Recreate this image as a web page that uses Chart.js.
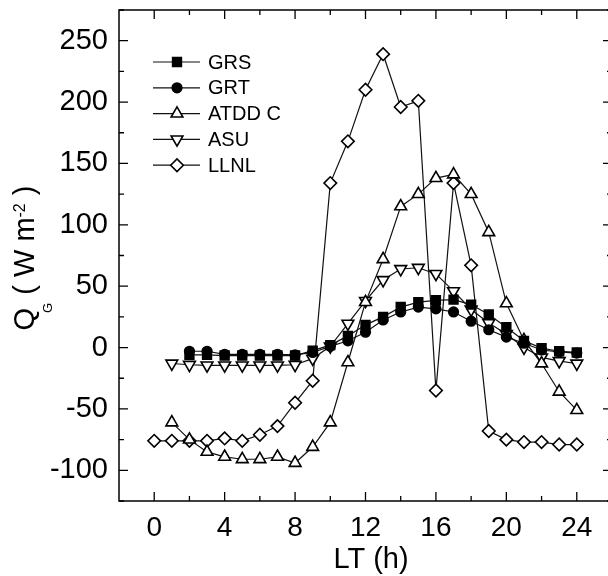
<!DOCTYPE html>
<html>
<head>
<meta charset="utf-8">
<style>
  html, body { margin: 0; padding: 0; background: #fff; overflow: hidden; width: 608px; height: 576px; }
  canvas { display: block; }
</style>
<script src="https://cdn.jsdelivr.net/npm/chart.js@4/dist/chart.umd.min.js"></script>
</head>
<body>
<canvas id="c" width="608" height="576"></canvas>
<script>
// ---- data ----
const hours = [0,1,2,3,4,5,6,7,8,9,10,11,12,13,14,15,16,17,18,19,20,21,22,23,24];
const GRS  = [null,null,-6,-6,-6.5,-6.5,-6.5,-6.5,-6.5,-2.5,2,9.5,18.5,25,33,37,38.5,39,35,27,16.5,5.5,-0.5,-3,-4];
const GRT  = [null,null,-3,-3,-5.5,-5.5,-5.5,-5.5,-6,-4,1,5.5,12.5,22.5,29,33,31.5,29,21.5,14.5,8.5,3.5,-2,-3.5,-4.5];
const ATDD = [null,-61,-75,-85,-89,-91,-91,-89,-94,-81,-61,-12,37,72,115,125,138,141,125,94,36,6,-13,-36,-51];
const ASU  = [null,-13,-14,-14.5,-14.5,-14.5,-14.5,-14.5,-14,-9,1,19.5,38,55,64,65,60,46,31,20,11,0,-8,-11,-13];
const LLNL = [-76,-76,-76,-76,-74,-76,-71,-64,-45,-27,134,168,210,239,196,201,-35,134,67,-68,-75,-77,-77,-79,-79];
const seriesNames = ['GRS','GRT','ATDD C','ASU','LLNL'];
const xTickVals = [0,4,8,12,16,20,24];
const xMinorVals = [2,6,10,14,18,22];
const yTickVals = [-100,-50,0,50,100,150,200,250];
const yMinorVals = [-125,-75,-25,25,75,125,175,225,275];
const xTitle = 'LT (h)';

function pts(arr){ const o=[]; arr.forEach((v,i)=>{ if(v!==null) o.push({x:hours[i], y:v}); }); return o; }

const FONT = '"Liberation Sans", Arial, sans-serif';
const styles = [
  {pointStyle:'rect', radius:6.2, rotation:0, fill:'#000'},
  {pointStyle:'circle', radius:4.8, rotation:0, fill:'#000'},
  {pointStyle:'triangle', radius:6.8, rotation:0, fill:'#fff'},
  {pointStyle:'triangle', radius:6.8, rotation:180, fill:'#fff'},
  {pointStyle:'rectRot', radius:6.3, rotation:0, fill:'#fff'}
];
const allSeries = [GRS, GRT, ATDD, ASU, LLNL];

const datasets = allSeries.map((s,i)=>({
  label: seriesNames[i],
  data: pts(s),
  borderColor:'#111',
  borderWidth:1.2,
  pointStyle: styles[i].pointStyle,
  pointRadius: styles[i].radius,
  pointRotation: styles[i].rotation,
  pointBackgroundColor: styles[i].fill,
  pointBorderColor:'#000',
  pointBorderWidth:1.6,
  tension:0,
  fill:false,
  clip:false
}));

function zeroPad(s){ s.paddingTop = 0; s.paddingBottom = 0; s.paddingLeft = 0; s.paddingRight = 0; }

// the plot frame continues a few pixels past the right edge of the picture
const extendPlugin = {
  id:'extend',
  afterLayout(chart){
    const xs = chart.scales.x;
    const R = chart.width + 4;
    chart.chartArea.right = R;
    chart.chartArea.width = R - chart.chartArea.left;
    xs.right = R;
    xs.width = R - xs.left;
    xs.configure();
  }
};

const framePlugin = {
  id:'frame',
  afterDraw(chart){
    const ctx = chart.ctx, a = chart.chartArea;
    const xs = chart.scales.x, ys = chart.scales.y;
    ctx.save();
    ctx.strokeStyle = '#000';
    ctx.lineWidth = 1.5;
    ctx.strokeRect(a.left, a.top, a.right - a.left, a.bottom - a.top);
    ctx.lineWidth = 1.3;
    ctx.beginPath();
    const tickX = (v, len) => {
      const p = xs.getPixelForValue(v);
      ctx.moveTo(p, a.bottom); ctx.lineTo(p, a.bottom - len);
      ctx.moveTo(p, a.top); ctx.lineTo(p, a.top + len);
    };
    const tickY = (v, len) => {
      const p = ys.getPixelForValue(v);
      ctx.moveTo(a.left, p); ctx.lineTo(a.left + len, p);
      ctx.moveTo(a.right, p); ctx.lineTo(a.right - len, p);
    };
    xTickVals.forEach(v=>tickX(v, 9));
    xMinorVals.forEach(v=>tickX(v, 5));
    yTickVals.forEach(v=>tickY(v, 9));
    yMinorVals.forEach(v=>tickY(v, 5));
    ctx.stroke();

    // x title
    ctx.fillStyle = '#000';
    ctx.font = '29px ' + FONT;
    ctx.textAlign = 'center';
    ctx.textBaseline = 'alphabetic';
    ctx.fillText(xTitle, 371, 568);

    // y title with sub/superscript
    ctx.save();
    ctx.translate(25, 258);
    ctx.rotate(-Math.PI/2);
    const big = '29px ' + FONT;
    const sub = '13px ' + FONT;
    const sup = '16px ' + FONT;
    const parts = [
      {t:'Q', f:big, dy:0, dx:0},
      {t:'G', f:sub, dy:18, dx:-5},
      {t:' ( W m', f:big, dy:0, dx:0},
      {t:'-2', f:sup, dy:-9, dx:0},
      {t:' )', f:big, dy:0, dx:0}
    ];
    let total = 0;
    parts.forEach(p=>{ ctx.font = p.f; p.w = ctx.measureText(p.t).width; total += p.w + p.dx; });
    let x = -total/2;
    ctx.textAlign = 'left';
    parts.forEach(p=>{ ctx.font = p.f; x += p.dx; ctx.fillText(p.t, x, 9 + p.dy); x += p.w; });
    ctx.restore();

    // legend
    chart.data.datasets.forEach((ds, i) => {
      const y = 62 + i * 25.8;
      ctx.strokeStyle = '#111';
      ctx.lineWidth = 1.2;
      ctx.beginPath(); ctx.moveTo(153, y); ctx.lineTo(200, y); ctx.stroke();
      ctx.fillStyle = ds.pointBackgroundColor;
      ctx.strokeStyle = '#000';
      ctx.lineWidth = 1.6;
      Chart.helpers.drawPoint(ctx, {pointStyle: ds.pointStyle, radius: ds.pointRadius, rotation: ds.pointRotation, borderWidth: 1.6}, 177, y);
      ctx.fillStyle = '#000';
      ctx.font = '20px ' + FONT;
      ctx.textAlign = 'left';
      ctx.textBaseline = 'middle';
      ctx.fillText(ds.label, 208, y + 1);
    });
    ctx.restore();
  }
};

new Chart(document.getElementById('c'), {
  type:'line',
  data:{ datasets },
  options:{
    responsive:false,
    animation:false,
    devicePixelRatio:1,
    layout:{ padding:{ left:0, top:10, right:0, bottom:0 } },
    plugins:{ legend:{display:false}, tooltip:{enabled:false} },
    scales:{
      x:{
        type:'linear', min:-2, max:26,
        grid:{display:false, drawTicks:false}, border:{display:false},
        afterBuildTicks(s){ s.ticks = xTickVals.map(v=>({value:v})); },
        afterFit(s){ s.height = 75; zeroPad(s); },
        ticks:{ color:'#000', padding:10, maxRotation:0, autoSkip:false, font:{size:28, family:FONT} }
      },
      y:{
        type:'linear', min:-125, max:275,
        grid:{display:false, drawTicks:false}, border:{display:false},
        afterBuildTicks(s){ s.ticks = yTickVals.map(v=>({value:v})); },
        afterFit(s){ s.width = 119; zeroPad(s); },
        ticks:{ color:'#000', padding:11, autoSkip:false, font:{size:29, family:FONT} }
      }
    }
  },
  plugins:[extendPlugin, framePlugin]
});
</script>
</body>
</html>
